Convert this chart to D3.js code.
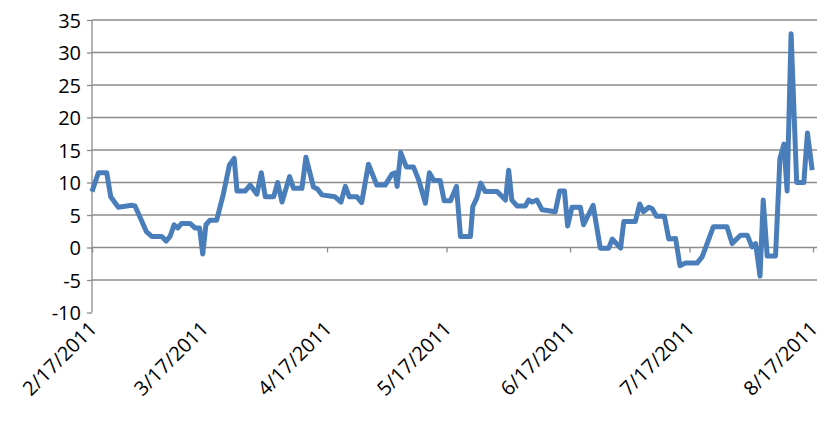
<!DOCTYPE html>
<html><head><meta charset="utf-8">
<script src="https://cdn.jsdelivr.net/npm/d3@7"></script>
<style>body{margin:0;background:#fff}svg{display:block}text{font-family:"Open Sans",sans-serif;font-size:19px;fill:#000}</style>
</head><body><svg id="chart" width="823" height="430"></svg>
<script>
// days after 2/17/2011 and value
var days = [0,1.6,3.7,4.7,6.6,10,10.8,13.7,15,17.5,18.6,19.6,20.6,21.5,22.5,24.6,25.9,27,27.8,28.6,29.6,31.3,33,34.5,35.7,36.4,38.5,39.7,41.4,42.5,43.5,45.6,46.6,47.7,49.6,50.6,52.7,53.7,55.6,56.6,57.7,61,62.5,63.6,64.6,66.5,67.7,69.4,71.5,73.6,75.3,76.1,76.6,77.5,78.9,80.7,82,83.7,84.7,85.8,87.4,88.4,90,91.5,92.5,95,95.6,96.6,97.6,98.7,101.7,103.8,104.6,105.4,106.7,108.8,109.6,110.5,111.7,113,116.3,117.4,118.6,119.4,120.5,122.6,123.4,125.8,127.6,129.7,130.6,132.7,133.5,136.4,137.5,138.4,139.8,140.6,141.7,143.7,144.8,146.5,147.6,149,151.9,153.2,156,159.4,160.7,162.8,164.5,165.7,166.6,167.7,168.5,169.5,171.6,172.7,173.7,174.5,175.5,176.9,178.7,179.6,180.8];
var values = [8.6,11.5,11.5,7.8,6.2,6.5,6.4,2.4,1.7,1.7,1.0,1.7,3.5,3.0,3.7,3.7,3.0,3.0,-1.0,3.5,4.2,4.2,8.3,12.7,13.7,8.7,8.7,9.6,8.2,11.5,7.8,7.8,10,7.0,10.9,9.1,9.1,13.9,9.3,9.0,8.1,7.8,7.0,9.4,7.8,7.8,6.9,12.8,9.6,9.6,11.3,11.5,9.4,14.6,12.4,12.4,10.4,6.8,11.5,10.3,10.3,7.2,7.2,9.4,1.7,1.7,6.3,7.6,9.9,8.6,8.6,7.3,11.9,7.3,6.4,6.4,7.3,7.0,7.3,5.8,5.5,8.7,8.7,3.3,6.2,6.2,3.5,6.5,-0.1,-0.1,1.3,-0.1,4.0,4.0,6.7,5.5,6.2,6.0,4.8,4.8,1.3,1.4,-2.8,-2.4,-2.4,-1.4,3.2,3.2,0.6,1.9,1.9,0.1,0.6,-4.4,7.3,-1.3,-1.3,13.7,15.9,8.7,32.9,10.0,10.0,17.6,11.9];
var yTicks = [-10,-5,0,5,10,15,20,25,30,35];
var xTickLabels = ["2/17/2011","3/17/2011","4/17/2011","5/17/2011","6/17/2011","7/17/2011","8/17/2011"];

var svg = d3.select("#chart");
var base = new Date(2011, 1, 17);
var parse = d3.timeParse("%m/%d/%Y");
var xTicks = xTickLabels.map(function(s) { return parse(s); });
var x = d3.scaleTime().domain([base, xTicks[xTicks.length - 1]]).range([92, 813]);
var y = d3.scaleLinear().domain([-10, 35]).range([312.5, 20]);

// gridlines
svg.append("g").selectAll("line").data(yTicks.filter(function(t){return t>-10})).enter().append("line")
  .attr("x1", 92).attr("x2", 817).attr("y1", y).attr("y2", y)
  .attr("stroke", "#8c8c8c").attr("stroke-width", 1.3);

var yAxis = svg.append("g").attr("transform", "translate(92,0)")
  .call(d3.axisLeft(y).tickValues(yTicks).tickSize(5).tickPadding(6).tickFormat(function(d) { return String(d); }));
yAxis.selectAll("text").style("font-size", "20px").attr("dy", "0.35em");
yAxis.selectAll("line,path").attr("stroke", "#8c8c8c").attr("stroke-width", 1.3);
yAxis.select("path").attr("d", "M0,20V312.5");

var xAxis = svg.append("g").attr("transform", "translate(0," + y(0) + ")")
  .call(d3.axisBottom(x).tickValues(xTicks).tickSize(5).tickFormat(function(d, i) { return xTickLabels[i]; }));
xAxis.select("path").remove();
xAxis.selectAll("line").attr("stroke", "#8c8c8c").attr("stroke-width", 1.3);
xAxis.selectAll("text").remove();

svg.append("g").selectAll("text").data(xTicks).enter().append("text")
  .attr("transform", function(d) { return "translate(" + (x(d) + 6) + ",330) rotate(-45)"; })
  .attr("text-anchor", "end").style("font-size", "20px")
  .text(function(d, i) { return xTickLabels[i]; });

var pts = days.map(function(d, i) { return [new Date(+base + d * 864e5), values[i]]; });
svg.append("path").datum(pts)
  .attr("fill", "none").attr("stroke", "#4a7ebb").attr("stroke-width", 5)
  .attr("stroke-linejoin", "round")
  .attr("d", d3.line().x(function(p) { return x(p[0]); }).y(function(p) { return y(p[1]); }));
</script></body></html>
